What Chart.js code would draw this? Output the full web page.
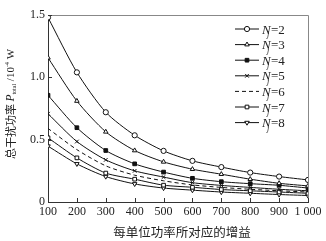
<!DOCTYPE html>
<html><head><meta charset="utf-8">
<script src="https://cdn.jsdelivr.net/npm/chart.js@4.4.1/dist/chart.umd.min.js"></script>
<style>html,body{margin:0;padding:0;background:#fff;}#wrap{width:326px;height:241px;}</style>
</head><body><div id="wrap"><canvas id="c" width="326" height="241"></canvas></div>
<script>
const gains = [100,200,300,400,500,600,700,800,900,1000];
const nLabels = ['2','3','4','5','6','7','8'];
const p2 = [1.48,1.04,0.72,0.535,0.41,0.33,0.28,0.236,0.204,0.177];
const p3 = [1.157,0.81,0.563,0.413,0.322,0.263,0.223,0.183,0.15,0.129];
const p4 = [0.856,0.596,0.413,0.306,0.24,0.19,0.163,0.147,0.134,0.112];
const p5 = [0.708,0.485,0.338,0.25,0.2,0.155,0.133,0.117,0.102,0.09];
const p6 = [0.59,0.42,0.29,0.215,0.17,0.137,0.117,0.102,0.09,0.08];
const p7 = [0.515,0.354,0.232,0.183,0.135,0.118,0.1,0.09,0.08,0.07];
const p8 = [0.448,0.306,0.204,0.145,0.112,0.095,0.08,0.07,0.06,0.052];
const yTicks = [0,0.5,1.0,1.5];
const xTitle = '每单位功率所对应的增益';

const series = [p2,p3,p4,p5,p6,p7,p8];
const styles = [
  {ps:'circle', fill:'#fff', rot:0, dash:[]},
  {ps:'triangle', fill:'#fff', rot:0, dash:[]},
  {ps:'rect', fill:'#111', rot:0, dash:[]},
  {ps:'crossRot', fill:'#111', rot:0, dash:[]},
  {ps:false, fill:'#111', rot:0, dash:[4,3]},
  {ps:'rect', fill:'#fff', rot:0, dash:[]},
  {ps:'triangle', fill:'#fff', rot:180, dash:[]}
];
const datasets = series.map((s,i)=>({
  label:'N=' + nLabels[i],
  data: s.map((v,k)=>({x:gains[k], y:v})),
  borderColor:'#111', borderWidth:1, borderDash:styles[i].dash,
  pointStyle:styles[i].ps, pointRadius: styles[i].ps ? 2.6 : 0,
  pointBackgroundColor:styles[i].fill, pointBorderColor:'#111', pointBorderWidth:1,
  pointRotation:styles[i].rot, tension:0.25, fill:false
}));

const serif = 'Liberation Serif, Times New Roman, serif';
const cjk = 'Noto Sans CJK SC, sans-serif';

const deco = {
  id:'deco',
  afterDraw(chart){
    const ctx = chart.ctx, a = chart.chartArea;
    const xs = chart.scales.x, ys = chart.scales.y;
    ctx.save();
    ctx.strokeStyle = '#888'; ctx.lineWidth = 1;
    ctx.beginPath();
    ctx.moveTo(a.left, a.top+0.5); ctx.lineTo(a.right+0.5, a.top+0.5); ctx.lineTo(a.right+0.5, a.bottom);
    ctx.stroke();
    ctx.strokeStyle = '#333';
    ctx.beginPath();
    gains.forEach(g=>{ const px = Math.round(xs.getPixelForValue(g))+0.5; ctx.moveTo(px, a.bottom); ctx.lineTo(px, a.bottom-4); });
    yTicks.forEach(t=>{ const py = Math.round(ys.getPixelForValue(t))+0.5; ctx.moveTo(a.left, py); ctx.lineTo(a.left+4, py); });
    ctx.stroke();
    chart.data.datasets.forEach((d,i)=>{
      const y = 29 + i*15.6;
      ctx.strokeStyle = '#111'; ctx.lineWidth = 1;
      ctx.setLineDash(styles[i].dash);
      ctx.beginPath(); ctx.moveTo(235, y); ctx.lineTo(259, y); ctx.stroke();
      ctx.setLineDash([]);
      if (styles[i].ps) {
        ctx.fillStyle = styles[i].fill;
        Chart.helpers.drawPoint(ctx, {pointStyle:styles[i].ps, radius:2.6, rotation:styles[i].rot, borderWidth:1}, 247, y);
      }
      ctx.fillStyle = '#222'; ctx.textBaseline = 'alphabetic'; ctx.textAlign = 'left';
      ctx.font = 'italic 13px ' + serif;
      ctx.fillText('N', 262, y+4.5);
      ctx.font = 'italic 8px ' + serif;
      ctx.fillText('j', 267, y+8);
      ctx.font = '13px ' + serif;
      ctx.fillText('=' + nLabels[i], 271, y+4.5);
    });
    ctx.fillStyle = '#222'; ctx.textAlign = 'center'; ctx.textBaseline = 'middle';
    ctx.font = '12.5px ' + cjk;
    ctx.fillText(xTitle, 182, 232);
    ctx.translate(11, 104); ctx.rotate(-Math.PI/2);
    const parts = [
      {t:'总干扰功率 ', f:'11px ' + cjk, dy:0},
      {t:'P', f:'italic 11.5px ' + serif, dy:0},
      {t:'total', f:'6px ' + serif, dy:3},
      {t:' /10', f:'11px ' + serif, dy:0},
      {t:'-4', f:'6px ' + serif, dy:-4},
      {t:' W', f:'11px ' + serif, dy:0}
    ];
    let w = 0;
    parts.forEach(p=>{ ctx.font = p.f; p.w = ctx.measureText(p.t).width; w += p.w; });
    let x = -w/2;
    ctx.textAlign = 'left';
    parts.forEach(p=>{ ctx.font = p.f; ctx.fillText(p.t, x, p.dy); x += p.w; });
    ctx.restore();
  }
};

new Chart(document.getElementById('c'), {
  type:'line',
  data:{datasets},
  options:{
    responsive:false, animation:false, devicePixelRatio:1,
    layout:{padding:{left:0, right:18, top:15, bottom:0}},
    plugins:{legend:{display:false}, tooltip:{enabled:false}},
    scales:{
      x:{type:'linear', min:100, max:1000,
        afterBuildTicks(s){ s.ticks = gains.map(v=>({value:v})); },
        ticks:{autoSkip:false, color:'#222', font:{family:serif, size:12}, padding:3, maxRotation:0, minRotation:0,
          callback:v=> v===1000 ? '1 000' : String(v)},
        grid:{display:true, drawOnChartArea:false, drawTicks:false},
        border:{color:'#333', width:1},
        afterFit(s){ s.height = 39; }
      },
      y:{type:'linear', min:0, max:1.5,
        afterBuildTicks(s){ s.ticks = yTicks.map(v=>({value:v})); },
        ticks:{color:'#222', font:{family:serif, size:12}, padding:3,
          callback:v=> v===0 ? '0' : v.toFixed(1)},
        grid:{display:true, drawOnChartArea:false, drawTicks:false},
        border:{color:'#333', width:1},
        afterFit(s){ s.width = 48; }
      }
    }
  },
  plugins:[deco]
});
</script></body></html>
